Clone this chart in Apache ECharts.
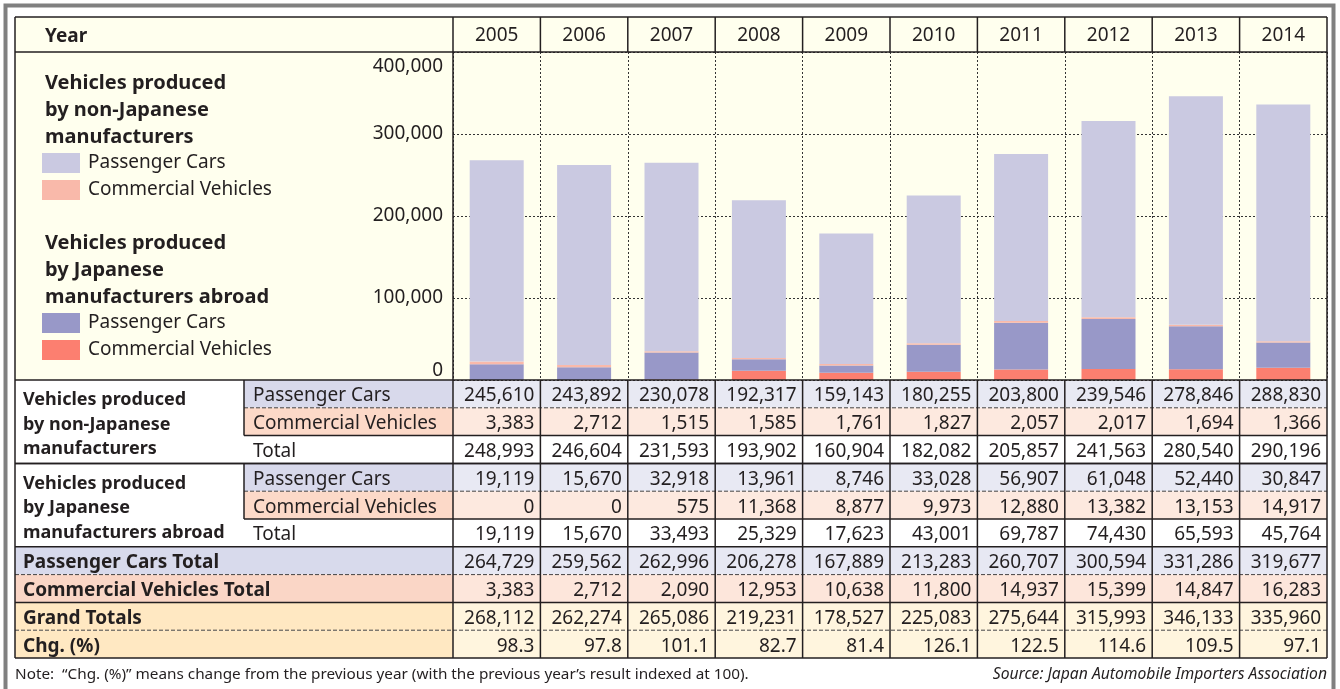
<!DOCTYPE html>
<html>
<head>
<meta charset="utf-8">
<script src="https://cdn.jsdelivr.net/npm/echarts@6/dist/echarts.min.js"></script>
<style>
html, body { margin: 0; padding: 0; background: #fff; }
#main { width: 1340px; height: 689px; }
</style>
</head>
<body>
<div id="main"></div>
<script>
var years = ['2005', '2006', '2007', '2008', '2009', '2010', '2011', '2012', '2013', '2014'];
var nonJpPassenger = [245610, 243892, 230078, 192317, 159143, 180255, 203800, 239546, 278846, 288830];
var nonJpCommercial = [3383, 2712, 1515, 1585, 1761, 1827, 2057, 2017, 1694, 1366];
var nonJpTotal = [248993, 246604, 231593, 193902, 160904, 182082, 205857, 241563, 280540, 290196];
var jpPassenger = [19119, 15670, 32918, 13961, 8746, 33028, 56907, 61048, 52440, 30847];
var jpCommercial = [0, 0, 575, 11368, 8877, 9973, 12880, 13382, 13153, 14917];
var jpTotal = [19119, 15670, 33493, 25329, 17623, 43001, 69787, 74430, 65593, 45764];
var passengerTotal = [264729, 259562, 262996, 206278, 167889, 213283, 260707, 300594, 331286, 319677];
var commercialTotal = [3383, 2712, 2090, 12953, 10638, 11800, 14937, 15399, 14847, 16283];
var grandTotal = [268112, 262274, 265086, 219231, 178527, 225083, 275644, 315993, 346133, 335960];
var changePct = [98.3, 97.8, 101.1, 82.7, 81.4, 126.1, 122.5, 114.6, 109.5, 97.1];

var FONT = '"Noto Sans"';
var INK = '#231f20';
var LEFT = 15, SUB = 244, TOP = 17, HEAD = 52, BASE = 380, ROW_H = 27.8;
var DY = 2; // Noto Sans sits a bit high when middle-aligned

function fmt(v) {
    return Number(v).toLocaleString('en-US');
}

var option = {
    animation: false,
    grid: { left: 453, right: 13, top: HEAD, bottom: 689 - BASE },
    xAxis: {
        type: 'category',
        data: years,
        position: 'top',
        axisLine: { show: false },
        axisTick: { show: false },
        axisLabel: { color: INK, fontSize: 19, fontFamily: 'Noto Sans', margin: 7 },
        splitLine: { show: true, lineStyle: { color: '#333', width: 1, type: [2, 2] } }
    },
    yAxis: {
        type: 'value',
        min: 0,
        max: 400000,
        interval: 100000,
        axisLine: { show: false },
        axisTick: { show: false },
        axisLabel: {
            color: INK, fontSize: 19, fontFamily: 'Noto Sans', margin: 10,
            padding: [5, 0, 0, 0],
            formatter: fmt,
            verticalAlignMinLabel: 'bottom',
            verticalAlignMaxLabel: 'top'
        },
        splitLine: { lineStyle: { color: '#333', width: 1, type: [2, 2] } }
    },
    legend: [
        {
            data: ['Passenger Cars (non-Japanese)', 'Commercial Vehicles (non-Japanese)'],
            left: 42, top: 153, orient: 'vertical', padding: 0,
            itemWidth: 38, itemHeight: 20, itemGap: 7, icon: 'rect',
            formatter: function (n) { return n.replace(/ \(.*\)$/, ''); },
            textStyle: { color: INK, fontSize: 19, fontFamily: 'Noto Sans', padding: [4, 0, 0, 3] }
        },
        {
            data: ['Passenger Cars (Japanese abroad)', 'Commercial Vehicles (Japanese abroad)'],
            left: 42, top: 313, orient: 'vertical', padding: 0,
            itemWidth: 38, itemHeight: 20, itemGap: 7, icon: 'rect',
            formatter: function (n) { return n.replace(/ \(.*\)$/, ''); },
            textStyle: { color: INK, fontSize: 19, fontFamily: 'Noto Sans', padding: [4, 0, 0, 3] }
        }
    ],
    series: [
        { name: 'Commercial Vehicles (Japanese abroad)', type: 'bar', stack: 'all', barWidth: 54,
          itemStyle: { color: '#fc7f70' }, data: jpCommercial },
        { name: 'Passenger Cars (Japanese abroad)', type: 'bar', stack: 'all', barWidth: 54,
          itemStyle: { color: '#9898c8' }, data: jpPassenger },
        { name: 'Commercial Vehicles (non-Japanese)', type: 'bar', stack: 'all', barWidth: 54,
          itemStyle: { color: '#f9b9aa' }, data: nonJpCommercial },
        { name: 'Passenger Cars (non-Japanese)', type: 'bar', stack: 'all', barWidth: 54,
          itemStyle: { color: '#cac9e1' }, data: nonJpPassenger }
    ]
};

var chart = echarts.init(document.getElementById('main'));
chart.setOption(option);

// table rows under the chart
var tableRows = [
    { label: 'Passenger Cars', values: nonJpPassenger, sub: true, labelBg: '#d8d9eb', cellBg: '#e8e9f3', line: 'dash', from: SUB },
    { label: 'Commercial Vehicles', values: nonJpCommercial, sub: true, labelBg: '#fcd9c8', cellBg: '#fde9df', line: 'solid', from: SUB },
    { label: 'Total', values: nonJpTotal, sub: true, line: 'solid', from: LEFT },
    { label: 'Passenger Cars', values: jpPassenger, sub: true, labelBg: '#d8d9eb', cellBg: '#e8e9f3', line: 'dash', from: SUB },
    { label: 'Commercial Vehicles', values: jpCommercial, sub: true, labelBg: '#fcd9c8', cellBg: '#fde9df', line: 'solid', from: SUB },
    { label: 'Total', values: jpTotal, sub: true, line: 'solid', from: LEFT },
    { label: 'Passenger Cars Total', values: passengerTotal, labelBg: '#d8daec', cellBg: '#e7e8f3', line: 'dash', from: LEFT },
    { label: 'Commercial Vehicles Total', values: commercialTotal, labelBg: '#fad6c6', cellBg: '#fde6db', line: 'solid', from: LEFT },
    { label: 'Grand Totals', values: grandTotal, labelBg: '#ffe8c2', cellBg: '#fff5de', line: 'dash', from: LEFT },
    { label: 'Chg. (%)', values: changePct, pct: true, labelBg: '#ffe8c2', cellBg: '#fff5de', line: 'solid', from: LEFT }
];

var c0 = chart.convertToPixel({ xAxisIndex: 0 }, 0);
var c1 = chart.convertToPixel({ xAxisIndex: 0 }, 1);
var colW = c1 - c0;
var dataLeft = c0 - colW / 2;
var RIGHT = dataLeft + colW * years.length;
var BOTTOM = BASE + ROW_H * tableRows.length;

var els = [];
function line(x1, y1, x2, y2, dashed, z) {
    els.push({
        type: 'line', z: z || 10, silent: true,
        shape: { x1: x1, y1: y1, x2: x2, y2: y2 },
        style: { stroke: dashed ? '#444' : INK, lineWidth: dashed ? 1 : 1.5, lineDash: dashed ? [4, 2] : null }
    });
}
function rect(x, y, w, h, fill, z) {
    els.push({ type: 'rect', z: z || -10, silent: true, shape: { x: x, y: y, width: w, height: h }, style: { fill: fill } });
}
function text(str, x, y, font, align, valign, extra) {
    var st = { text: str, x: x, y: y, font: font, fill: INK, align: align, verticalAlign: valign,
               textAlign: align, textVerticalAlign: valign };
    if (extra) { for (var k in extra) st[k] = extra[k]; }
    els.push({ type: 'text', z: 20, silent: true, style: st });
}

// outer grey frame and cream top panel
els.push({ type: 'rect', z: 30, silent: true, shape: { x: 5.5, y: 5.5, width: 1328, height: 720 },
           style: { fill: null, stroke: '#808080', lineWidth: 4 } });
rect(LEFT, TOP, RIGHT - LEFT, BASE - TOP, '#ffffee');

text('Year', 45, (TOP + HEAD) / 2 + DY, 'bold 19px ' + FONT, 'left', 'middle');
text('Vehicles produced\nby non-Japanese\nmanufacturers', 45, 70, 'bold 20px ' + FONT, 'left', 'top', { lineHeight: 27 });
text('Vehicles produced\nby Japanese\nmanufacturers abroad', 45, 230, 'bold 20px ' + FONT, 'left', 'top', { lineHeight: 27 });

tableRows.forEach(function (r, i) {
    var y = BASE + ROW_H * i;
    var cy = y + ROW_H / 2 + DY;
    if (r.labelBg) {
        rect(r.sub ? SUB : LEFT, y, (r.sub ? dataLeft - SUB : dataLeft - LEFT), ROW_H, r.labelBg);
        rect(dataLeft, y, RIGHT - dataLeft, ROW_H, r.cellBg);
    }
    text(r.label, r.sub ? SUB + 9 : LEFT + 8, cy, (r.sub ? '' : 'bold ') + '19px ' + FONT, 'left', 'middle');
    r.values.forEach(function (v, j) {
        var s = r.pct ? v.toFixed(1) : fmt(v);
        text(s, dataLeft + colW * (j + 1) - 6, cy, '19px ' + FONT, 'right', 'middle');
    });
    line(r.from, y + ROW_H, RIGHT, y + ROW_H, r.line === 'dash');
});

text('Vehicles produced\nby non-Japanese\nmanufacturers', LEFT + 8, BASE + 8, 'bold 18px ' + FONT, 'left', 'top', { lineHeight: 24.5 });
text('Vehicles produced\nby Japanese\nmanufacturers abroad', LEFT + 8, BASE + ROW_H * 3 + 8, 'bold 18px ' + FONT, 'left', 'top', { lineHeight: 24.5 });

// frame lines
line(LEFT, TOP, RIGHT, TOP);
line(LEFT, HEAD, RIGHT, HEAD);
line(LEFT, BASE, RIGHT, BASE);
line(LEFT, BASE + ROW_H * 3, RIGHT, BASE + ROW_H * 3);
line(LEFT, TOP, LEFT, BOTTOM);
line(RIGHT, TOP, RIGHT, BOTTOM);
line(dataLeft, TOP, dataLeft, BOTTOM);
line(SUB, BASE, SUB, BASE + ROW_H * 2);
line(SUB, BASE + ROW_H * 3, SUB, BASE + ROW_H * 5);
for (var k = 1; k < years.length; k++) {
    var x = dataLeft + colW * k;
    line(x, TOP, x, HEAD);
    line(x, BASE, x, BOTTOM);
}

text('Note:  \u201cChg. (%)\u201d means change from the previous year (with the previous year\u2019s result indexed at 100).',
     LEFT, 675, '15.3px ' + FONT, 'left', 'middle');
text('Source: Japan Automobile Importers Association', RIGHT, 675, 'italic 15.7px ' + FONT, 'right', 'middle');

chart.setOption({ graphic: { elements: els } });
</script>
</body>
</html>
